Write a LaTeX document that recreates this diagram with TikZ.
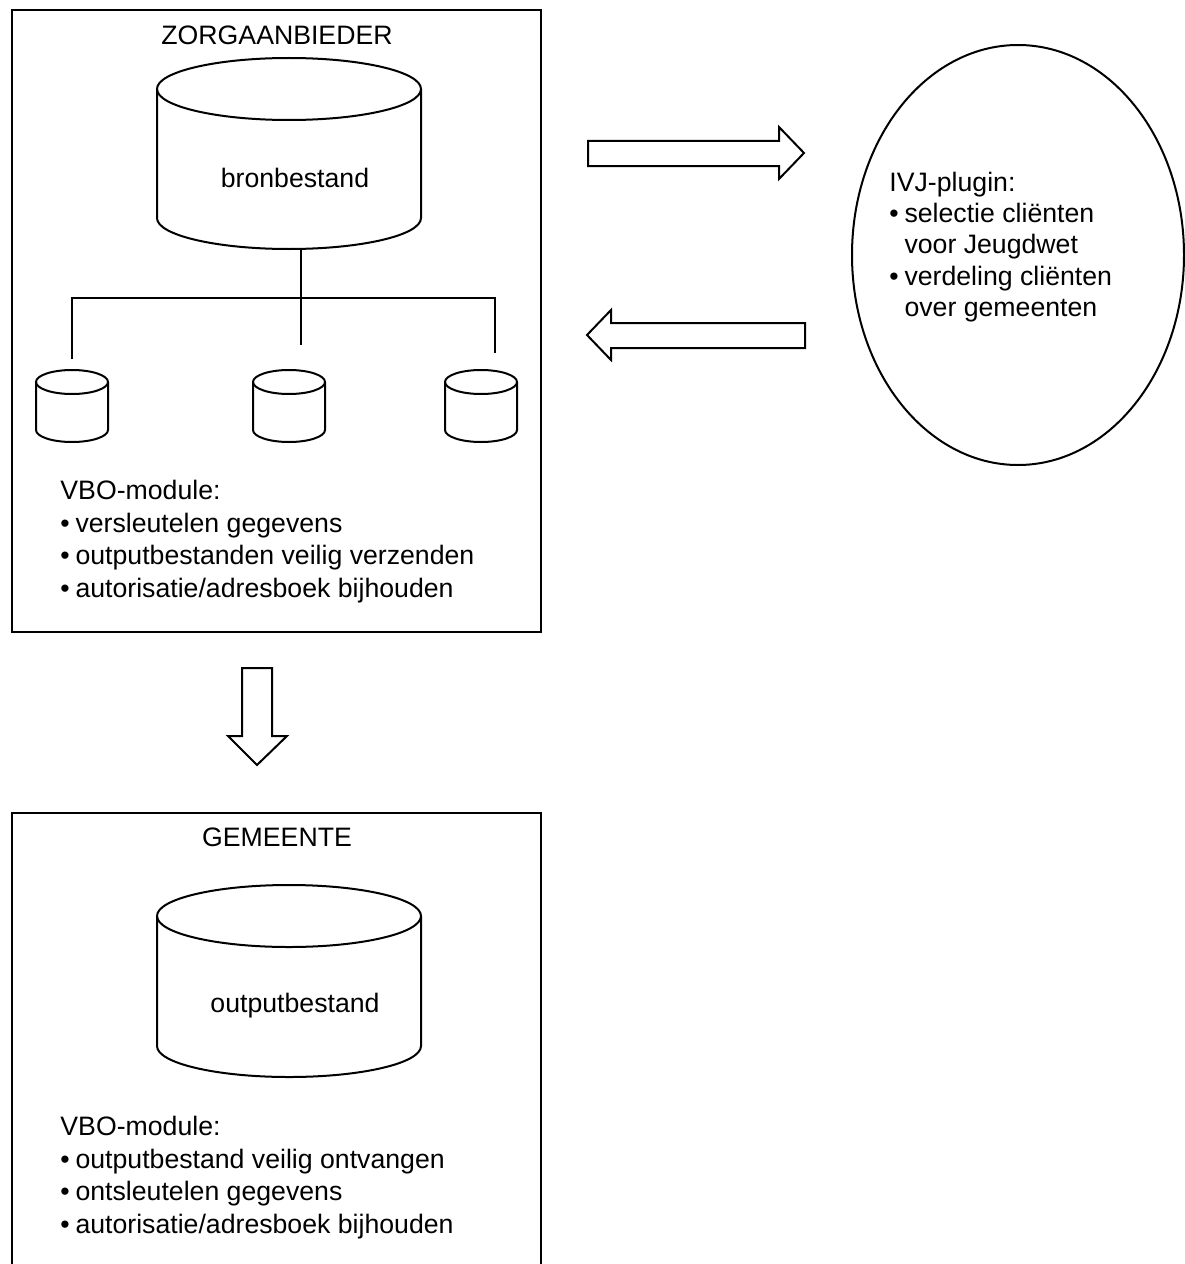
\documentclass[tikz,border=0pt]{standalone}
\usepackage{fontspec}
\setmainfont{Liberation Sans}
\usetikzlibrary{shapes.geometric}

\tikzset{
  pics/vat/.style n args={3}{code={
    \draw[line width=0.9pt] (-#1,0) -- (-#1,-#2+2*#3) arc[start angle=180, end angle=360, x radius=#1, y radius=#3] -- (#1,0);
    \draw[line width=0.9pt] (0,0) ellipse [x radius=#1, y radius=#3];
  }},
  kader/.style={line width=0.9pt},
  bus/.style={line width=1.3pt},
  pijl/.style={line width=0.9pt, line join=miter},
  tekst/.style={align=left, inner sep=0pt, anchor=north west, font=\fontsize{12}{14.6}\selectfont},
  kop/.style={inner sep=0pt, font=\fontsize{12}{14.6}\selectfont},
}
\newcommand{\punt}{\makebox[6.8pt][l]{•}}

\begin{document}
\begin{tikzpicture}[x=0.45pt,y=0.45pt]
    \useasboundingbox (0,0) rectangle (1184,-1264);

    % Zorgaanbieder
    \draw[kader] (12,-10) rectangle (541,-632);
    \node[kop] (zorg) at (277,-35) {ZORGAANBIEDER};
    \pic at (289,-89) {vat={132}{191}{31}};
    \node[kop] (bron) at (295,-178) {bronbestand};
    \pic at (72,-382) {vat={36}{72}{12}};
    \pic at (289,-382) {vat={36}{72}{12}};
    \pic at (481,-382) {vat={36}{72}{12}};

    % Verbindingen
    \coordinate (bronvoet) at (301,-249);
    \coordinate (splits) at (301,-298);
    \coordinate (links) at (72,-359);
    \coordinate (midden) at (301,-345);
    \coordinate (rechts) at (495,-353);
    \draw[bus] (bronvoet) -- (midden);
    \draw[bus] (links) |- (splits) -| (rechts);

    \node[tekst] (vbo1) at (60,-480) {VBO-module:\\
        \punt versleutelen gegevens\\
        \punt outputbestanden veilig verzenden\\
        \punt autorisatie/adresboek bijhouden};

    % IVJ-plugin
    \node[ellipse, draw, line width=0.9pt, inner sep=0pt, minimum width=149.4pt, minimum height=189pt] (ivj) at (1018,-255) {};
    \node[tekst, font=\fontsize{12}{14}\selectfont] (ivjtekst) at (889,-172) {IVJ-plugin:\\
        \punt selectie cliënten\\
        \hspace*{6.8pt}voor Jeugdwet\\
        \punt verdeling cliënten\\
        \hspace*{6.8pt}over gemeenten};

    % Pijlen
    \draw[pijl] (588,-141) -- (779,-141) -- (779,-127) -- (804,-153) -- (779,-179) -- (779,-166) -- (588,-166) -- cycle;
    \draw[pijl] (805,-323) -- (611,-323) -- (611,-310) -- (587,-335) -- (611,-360) -- (611,-348) -- (805,-348) -- cycle;
    \draw[pijl] (242,-668) -- (272,-668) -- (272,-736) -- (287,-736) -- (257,-765) -- (228,-736) -- (242,-736) -- cycle;

    % Gemeente
    \draw[kader] (12,-1264) -- (12,-813) -- (541,-813) -- (541,-1264);
    \node[kop] (gem) at (277,-837) {GEMEENTE};
    \pic at (289,-916) {vat={132}{192}{31}};
    \node[kop] (output) at (295,-1006) {outputbestand};

    \node[tekst] (vbo2) at (60,-1116) {VBO-module:\\
        \punt outputbestand veilig ontvangen\\
        \punt ontsleutelen gegevens\\
        \punt autorisatie/adresboek bijhouden};
\end{tikzpicture}
\end{document}
